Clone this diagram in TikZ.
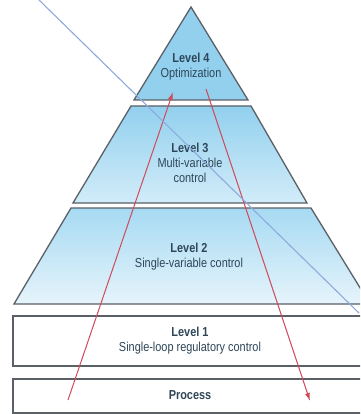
\documentclass[tikz,border=0pt]{standalone}
\usepackage{fontspec}
\setmainfont[FakeStretch=0.84]{Liberation Sans}
\usetikzlibrary{arrows.meta}
\definecolor{txt}{HTML}{2E4658}
\definecolor{edge}{HTML}{5A6066}
\definecolor{skyA}{HTML}{92D0EE}
\definecolor{skyB}{HTML}{A6DAF3}
\definecolor{skyC}{HTML}{D2ECF9}
\definecolor{skyD}{HTML}{E6F4FB}
\definecolor{redline}{HTML}{D04A5A}
\definecolor{blueline}{HTML}{8EAADC}
\tikzset{
  layer/.style={draw=edge, line width=1.3pt, line join=miter},
  lbl/.style={text=txt, font=\fontsize{13}{15}\selectfont, align=center, inner sep=0pt},
  flow/.style={draw=redline, line width=1pt, -{Latex[length=8pt,width=5pt]}},
  diag/.style={draw=blueline, line width=1.1pt}
}
\begin{document}
\begin{tikzpicture}[x=1pt,y=-1pt]
\useasboundingbox (0,0) rectangle (360,414);
\fill[white] (0,0) rectangle (360,414);
\begin{scope}
\clip (0,0) rectangle (360,414);
% Level 4 triangle
\path[layer, fill=skyA] (191,7) -- (134,100) -- (248,100) -- cycle;
% Level 3 trapezoid
\path[layer, top color=skyA, bottom color=skyC] (131,106) -- (251,106) -- (307,203) -- (73,203) -- cycle;
% Level 2 trapezoid
\path[layer, top color=skyB, bottom color=skyD] (71,208) -- (311,208) -- (370,304) -- (14,304) -- cycle;
% Level 1 box
\path[layer, fill=white] (13,316) rectangle (372,366);
% Process box
\path[layer, fill=white] (13,379) rectangle (372,413);
\end{scope}
% labels
\node[lbl] (l4) at (191,67) {\textbf{Level 4}\\Optimization};
\node[lbl] (l3) at (190,163) {\textbf{Level 3}\\Multi-variable\\control};
\node[lbl] (l2) at (189,257) {\textbf{Level 2}\\Single-variable control};
\node[lbl] (l1) at (190,341) {\textbf{Level 1}\\Single-loop regulatory control};
\node[lbl] (pr) at (190,395) {\textbf{Process}};
% red arrows
\coordinate (upS) at (68,400);
\coordinate (upE) at (173,92);
\coordinate (dnS) at (206,89);
\coordinate (dnE) at (310,401);
\draw[flow] (upS) -- (upE);
\draw[flow] (dnS) -- (dnE);
% blue diagonal
\coordinate (bS) at (39,0);
\coordinate (bE) at (359,313);
\draw[diag] (bS) -- (bE);
\end{tikzpicture}
\end{document}
